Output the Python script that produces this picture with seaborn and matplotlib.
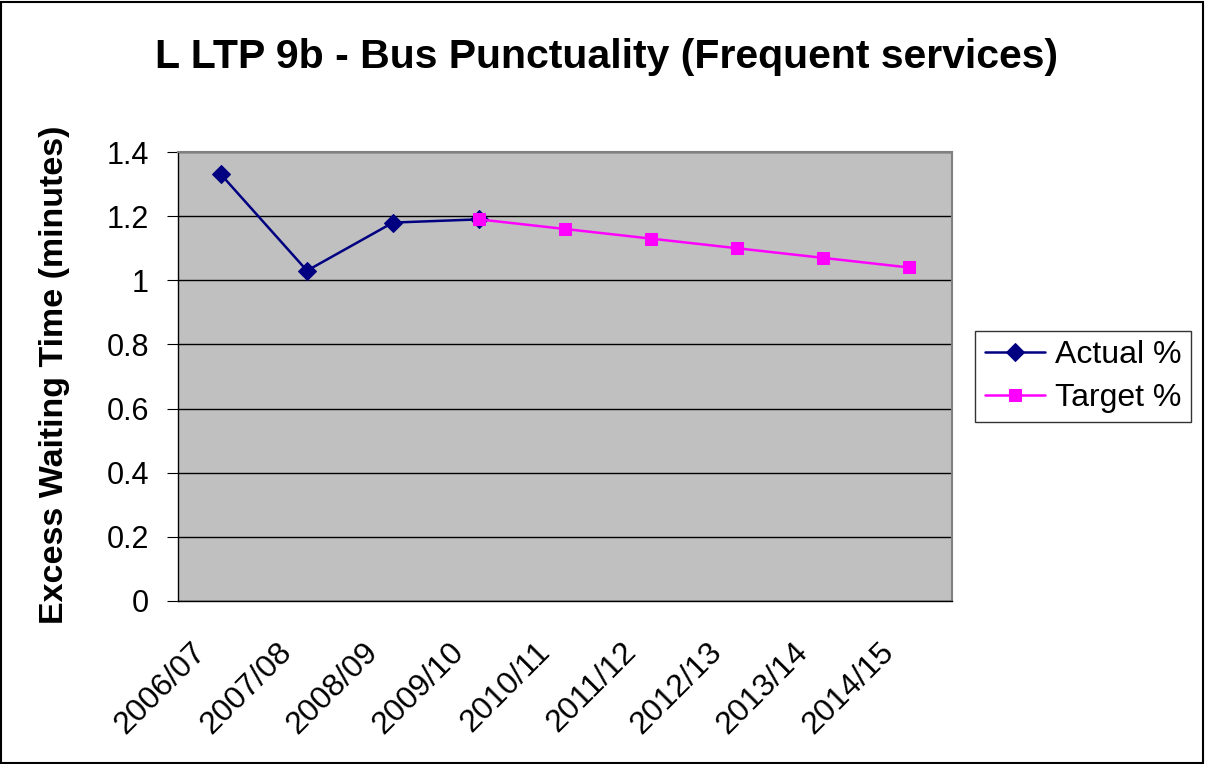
import matplotlib
matplotlib.use("Agg")
import matplotlib.pyplot as plt
import matplotlib.transforms as mtransforms
import seaborn as sns
import pandas as pd
import numpy as np
from matplotlib.patches import Rectangle

# Data
years = ["2006/07", "2007/08", "2008/09", "2009/10", "2010/11",
         "2011/12", "2012/13", "2013/14", "2014/15"]
actual = [1.33, 1.03, 1.18, 1.19, None, None, None, None, None]
target = [None, None, None, 1.19, 1.16, 1.13, 1.10, 1.07, 1.04]

df = pd.DataFrame({"pos": np.arange(len(years)), "year": years,
                   "actual": actual, "target": target})

sns.set_style("white")
plt.rcParams['font.family'] = ['Liberation Sans', 'DejaVu Sans']
plt.rcParams['text.color'] = 'black'
plt.rcParams['axes.labelcolor'] = 'black'
plt.rcParams['xtick.color'] = 'black'
plt.rcParams['ytick.color'] = 'black'

fig = plt.figure(figsize=(12.05, 7.64), dpi=100)
ax = fig.add_axes([0.1477, 0.2134, 0.6423, 0.5876])
ax.set_facecolor("#C0C0C0")

sns.lineplot(data=df.dropna(subset=["actual"]), x="pos", y="actual", ax=ax,
             color="#000080", marker="D", markersize=9, linewidth=1.8,
             markeredgecolor="#000080", label="Actual %")
sns.lineplot(data=df.dropna(subset=["target"]), x="pos", y="target", ax=ax,
             color="#FF00FF", marker="s", markersize=9, linewidth=1.8,
             markeredgecolor="#FF00FF", label="Target %")

ax.set_xlim(-0.5, len(years) - 0.5)
ax.set_ylim(0, 1.4)
ax.set_yticks(np.arange(0, 1.41, 0.2))
ax.set_yticklabels(["0", "0.2", "0.4", "0.6", "0.8", "1", "1.2", "1.4"], fontsize=22)
ax.yaxis.grid(True, color="black", linewidth=1)
ax.set_axisbelow(True)

# category boundaries as ticks, labels at centres
ax.set_xticks(np.arange(-0.5, len(years), 1.0))
ax.set_xticklabels([])
ax.set_xticks(np.arange(len(years)), minor=True)
ax.set_xticklabels(years, minor=True, rotation=45, ha="right", va="top",
                   rotation_mode="anchor", fontsize=23)
ax.tick_params(axis="x", which="major", direction="out", length=8, color="black")
ax.tick_params(axis="x", which="minor", length=0, pad=26)
ax.tick_params(axis="y", direction="out", length=8, color="black", pad=13, left=True)
shift = mtransforms.ScaledTranslation(-0.30, 0, fig.dpi_scale_trans)
for lbl in ax.get_xticklabels(minor=True):
    lbl.set_transform(lbl.get_transform() + shift)

for side in ["top", "right"]:
    ax.spines[side].set_color("#808080")
    ax.spines[side].set_linewidth(1.5)
for side in ["left", "bottom"]:
    ax.spines[side].set_color("black")
    ax.spines[side].set_linewidth(1)

ax.set_xlabel("")
ax.set_ylabel("Excess Waiting Time (minutes)", fontsize=24.5, fontweight="bold")
ax.yaxis.set_label_coords(-0.1395, 0.505)

fig.text(0.503, 0.925, "L LTP 9b - Bus Punctuality (Frequent services)",
         ha="center", va="center", fontsize=29.5, fontweight="bold")

leg = ax.legend(loc="center left", bbox_to_anchor=(1.03, 0.5), fontsize=23,
                frameon=True, fancybox=False, edgecolor="black",
                handlelength=1.9, handletextpad=0.3, borderpad=0.3,
                labelspacing=0.4, borderaxespad=0.0)
leg.get_frame().set_linewidth(1)

fig.patches.append(Rectangle((0.001, 0.001), 0.997, 0.997, transform=fig.transFigure,
                             fill=False, edgecolor="black", linewidth=1.5))

fig.savefig("out.png", dpi=100)
